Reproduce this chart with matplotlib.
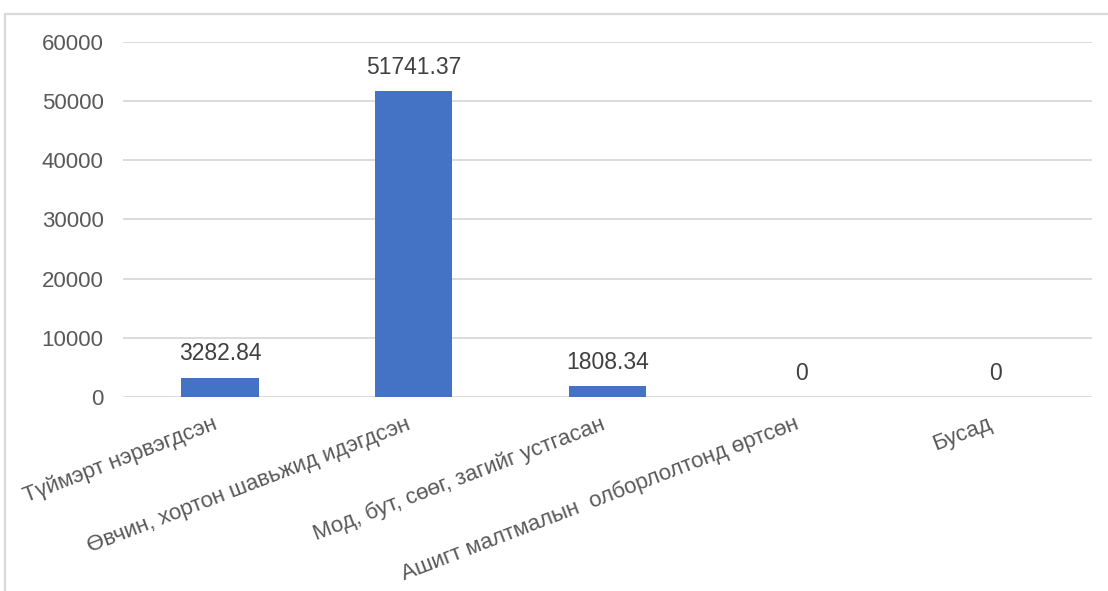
import matplotlib
matplotlib.use("Agg")
import matplotlib.pyplot as plt
from matplotlib.patches import Rectangle

plt.rcParams["font.family"] = ["Liberation Sans", "DejaVu Sans"]

CATEGORIES = [
    "Түймэрт нэрвэгдсэн",
    "Өвчин, хортон шавьжид идэгдсэн",
    "Мод, бут, сөөг, загийг устгасан",
    "Ашигт малтмалын  олборлолтонд өртсөн",
    "Бусад",
]
VALUES = [3282.84, 51741.37, 1808.34, 0, 0]
VALUE_LABELS = ["3282.84", "51741.37", "1808.34", "0", "0"]
Y_TICKS = [0, 10000, 20000, 30000, 40000, 50000, 60000]

BAR_COLOR = "#4472C4"
GRID_COLOR = "#D9D9D9"
TICK_COLOR = "#595959"
LABEL_COLOR = "#404040"


def main():

    fig = plt.figure(figsize=(11.08, 5.91), dpi=100)

    # outer chart frame (only top and left edges show in the crop)
    frame = Rectangle(
        (5 / 1108, -0.5), 2.0, 1 - 14 / 591 + 0.5,
        transform=fig.transFigure, fill=False,
        edgecolor=GRID_COLOR, linewidth=1.6, zorder=0,
    )
    fig.patches.append(frame)

    ax = fig.add_axes([0.111, 0.3283, 0.8746, 0.6006])

    x = range(len(CATEGORIES))

    ax.bar(x, VALUES, width=0.40, color=BAR_COLOR, zorder=3)

    for xi, v, txt in zip(x, VALUES, VALUE_LABELS):
        ax.annotate(
            txt, (xi, v),
            xytext=(0, 12.5), textcoords="offset points",
            ha="center", va="baseline",
            fontsize=16.5, color=LABEL_COLOR,
        )

    ax.set_xlim(-0.5, len(CATEGORIES) - 0.5)
    ax.set_ylim(0, 60000)
    ax.set_yticks(Y_TICKS)
    ax.set_yticklabels([str(t) for t in Y_TICKS])

    ax.set_xticks(list(x))
    ax.set_xticklabels(CATEGORIES, rotation=21, ha="right")

    ax.yaxis.grid(True, color=GRID_COLOR, linewidth=1.3, zorder=0)
    ax.set_axisbelow(True)

    for s in ax.spines.values():
        s.set_visible(False)

    ax.tick_params(axis="y", length=0, pad=14, labelsize=16, labelcolor=TICK_COLOR)
    ax.tick_params(axis="x", length=0, pad=12, labelsize=16, labelcolor=TICK_COLOR)

    fig.savefig("out.png", dpi=100)
    plt.close(fig)


if __name__ == "__main__":
    main()
